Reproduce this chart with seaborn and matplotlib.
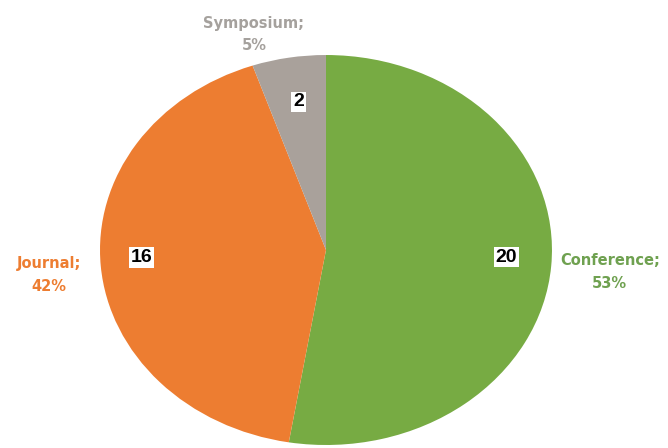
import numpy as np
import seaborn as sns
import matplotlib.pyplot as plt

# data
categories = ["Conference", "Journal", "Symposium"]
counts = [20, 16, 2]
slice_colors = ["#77AB43", "#ED7D31", "#A9A19B"]
label_colors = ["#6FA150", "#ED7D31", "#A5A19D"]

sns.set_theme(style="white")
plt.rcParams['font.family'] = ['DejaVu Sans']

fig = plt.figure(figsize=(6.68, 4.48), dpi=100)
ax = fig.add_axes([0.1497, 0.0067, 0.6766, 0.8705])

total = sum(counts)
wedges, _, autotexts = ax.pie(
    counts, colors=slice_colors, startangle=90, counterclock=False,
    autopct=lambda p: "%d" % round(p * total / 100.0), pctdistance=0.8,
    wedgeprops=dict(linewidth=0), radius=1.0)

# value boxes inside the slices
num_dist = [0.8, 0.82, 0.74]
for w, t, d in zip(wedges, autotexts, num_dist):
    mid = np.deg2rad((w.theta1 + w.theta2) / 2.0)
    t.set_position((d * np.cos(mid), d * np.sin(mid) + 0.03))
    t.set_fontsize(14)
    t.set_fontweight("bold")
    t.set_family("Liberation Sans")
    t.set_color("black")
    t.set_bbox(dict(facecolor="white", edgecolor="none", pad=1.2))

# category labels "Name; NN%"
label_dist = [1.26, 1.23, 1.12]
label_dx = [0.0, 0.0, -0.135]
label_dy = [-0.01, -0.025, 0.0]
for w, name, n, col, d, dx, dy in zip(wedges, categories, counts, label_colors,
                                      label_dist, label_dx, label_dy):
    mid = np.deg2rad((w.theta1 + w.theta2) / 2.0)
    pct = round(100.0 * n / total)
    x, y = d * np.cos(mid) + dx, d * np.sin(mid) + dy
    ax.text(x, y, "%s;\n%d%%" % (name, pct), ha="center", va="center",
            color=col, fontsize=10.5, fontweight="bold", linespacing=1.65)

ax.set_xlim(-1, 1)
ax.set_ylim(-1, 1)
ax.set_aspect("auto")
ax.axis("off")

fig.savefig("out.png", dpi=100)
